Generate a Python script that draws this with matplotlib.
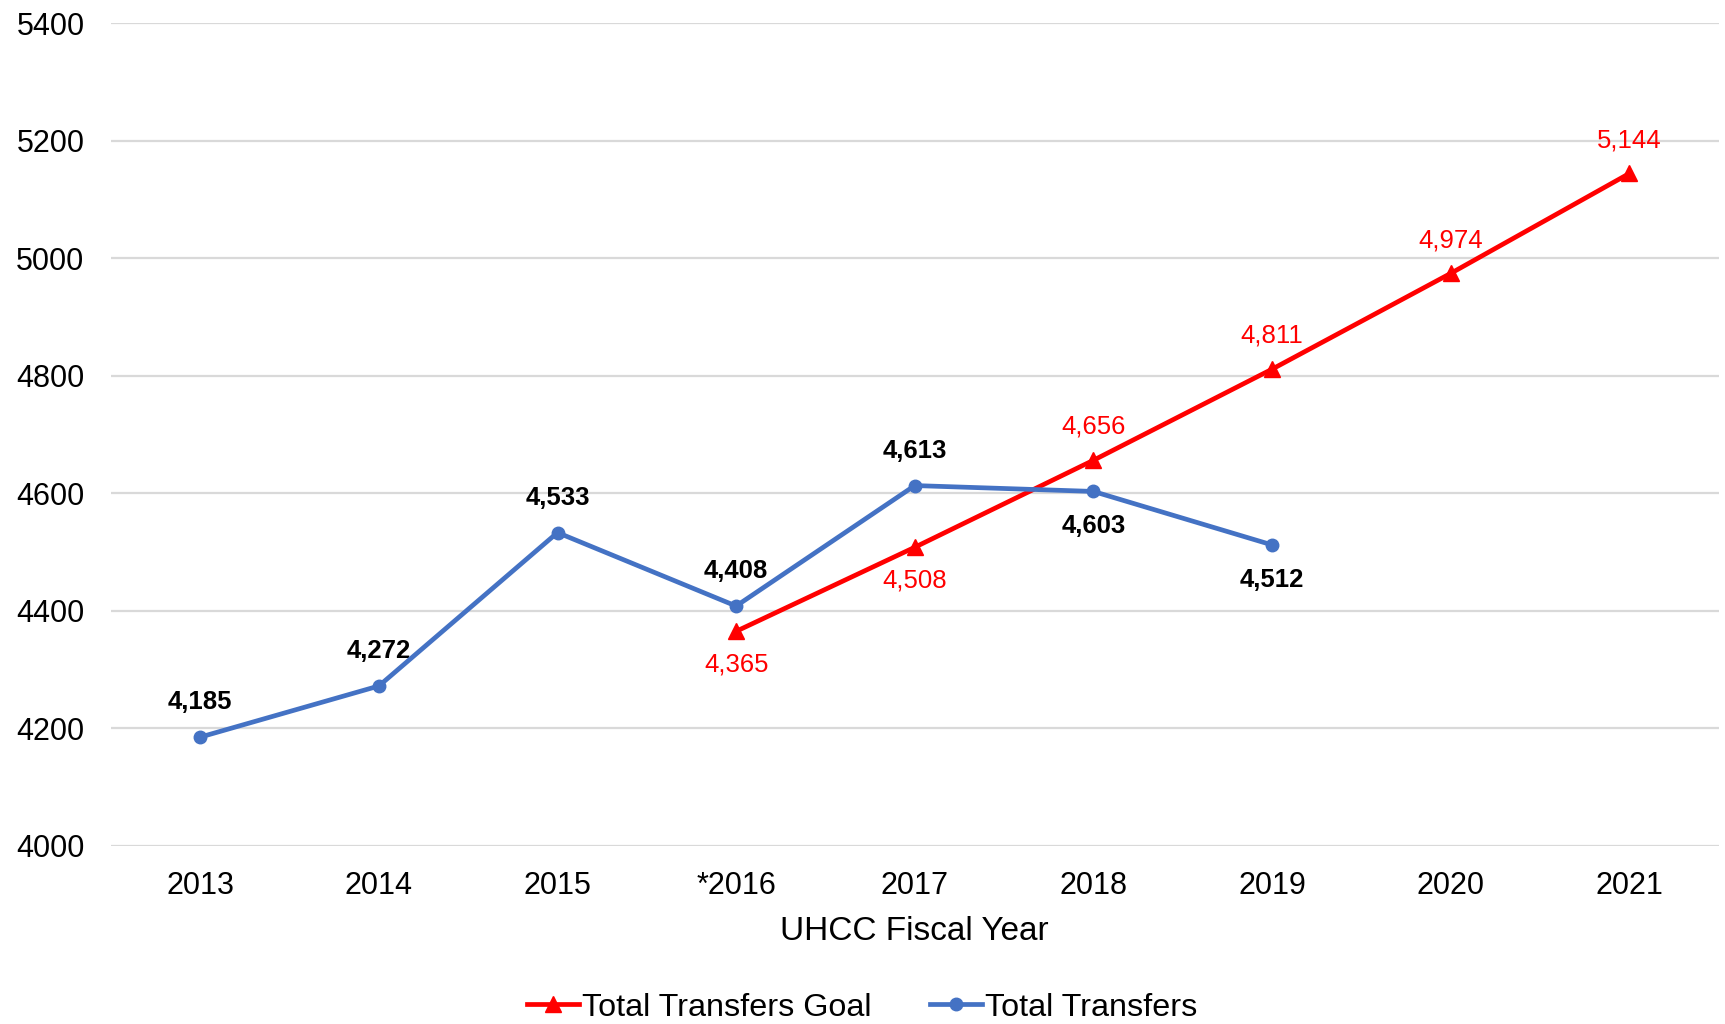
import matplotlib
matplotlib.use("Agg")
import matplotlib.pyplot as plt

plt.rcParams['font.family'] = ['Liberation Sans', 'DejaVu Sans']

years = ["2013", "2014", "2015", "*2016", "2017", "2018", "2019", "2020", "2021"]
transfers = [4185, 4272, 4533, 4408, 4613, 4603, 4512]
goal_idx = [3, 4, 5, 6, 7, 8]
goal = [4365, 4508, 4656, 4811, 4974, 5144]
yticks = [4000, 4200, 4400, 4600, 4800, 5000, 5200, 5400]

blue = "#4472C4"
red = "#FF0000"

fig = plt.figure(figsize=(17.25, 10.24), dpi=100)
ax = fig.add_axes([0.0643, 0.174, 0.932, 0.8035])

x_t = list(range(len(transfers)))
ax.plot(goal_idx, goal, color=red, lw=3.4, marker="^", ms=11, label="Total Transfers Goal", zorder=3)
ax.plot(x_t, transfers, color=blue, lw=3.4, marker="o", ms=9, label="Total Transfers", zorder=4)

blue_below = {5, 6}
for i, v in zip(x_t, transfers):
    off = -25 if i in blue_below else 25
    ax.annotate(f"{v:,}", (i, v), xytext=(0, off), textcoords="offset points",
                ha="center", va="center", fontsize=18.5, fontweight="bold", color="black")

red_below = {3, 4}
for i, v in zip(goal_idx, goal):
    off = -24 if i in red_below else 24
    ax.annotate(f"{v:,}", (i, v), xytext=(0, off), textcoords="offset points",
                ha="center", va="center", fontsize=18.5, color=red)

ax.set_xlim(-0.5, len(years) - 0.5)
ax.set_ylim(4000, 5400)
ax.set_yticks(yticks)
ax.set_yticklabels([str(t) for t in yticks])
ax.set_xticks(range(len(years)))
ax.set_xticklabels(years)
ax.tick_params(axis="both", length=0, labelsize=22)
ax.tick_params(axis="y", pad=19)
ax.tick_params(axis="x", pad=18)
ax.grid(axis="y", color="#D9D9D9", lw=1.6)
ax.set_axisbelow(True)
for s in ax.spines.values():
    s.set_visible(False)

ax.set_xlabel("UHCC Fiscal Year", fontsize=24, labelpad=11)

leg = fig.legend(loc="center", bbox_to_anchor=(0.5, 0.016), ncol=2, frameon=False,
                 fontsize=23.3, handlelength=1.6, handletextpad=0.1, columnspacing=1.8)

fig.savefig("out.png", dpi=100)
